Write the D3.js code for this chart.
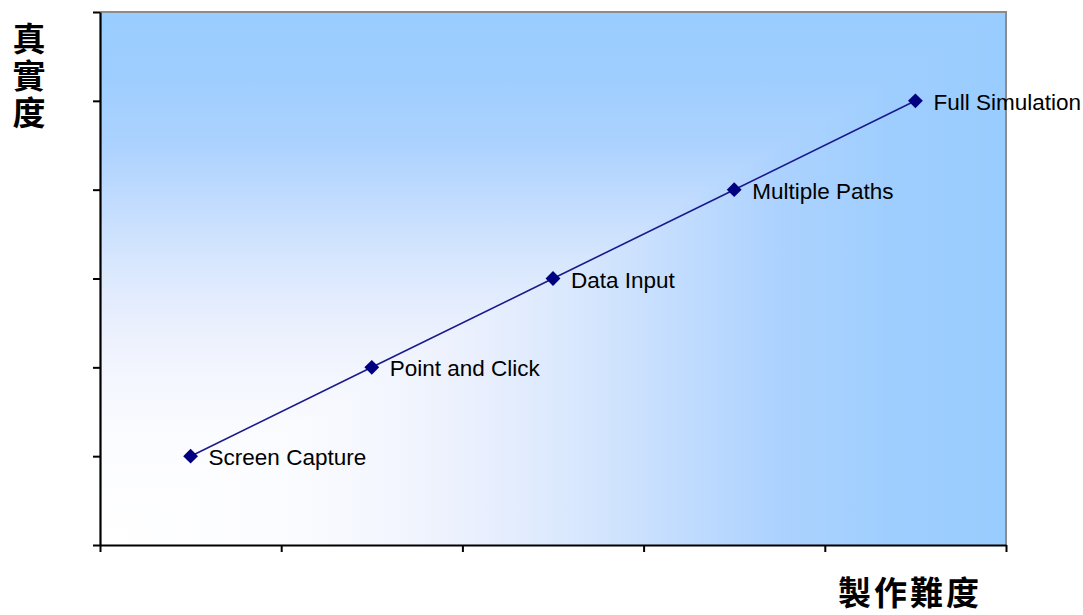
<!DOCTYPE html>
<html>
<head>
<meta charset="utf-8">
<script src="https://cdn.jsdelivr.net/npm/d3@7"></script>
<style>
  html, body { margin: 0; padding: 0; background: #ffffff; }
  svg { display: block; }
</style>
</head>
<body>
<svg id="chart" width="1083" height="615"></svg>
<script>
// Difficulty vs. realism of simulation types
const categories = ["Screen Capture", "Point and Click", "Data Input", "Multiple Paths", "Full Simulation"];
const difficulty = [0.5, 1.5, 2.5, 3.5, 4.5];
const realism = [1, 2, 3, 4, 5];
const xTicks = [0, 1, 2, 3, 4, 5];
const yTicks = [0, 1, 2, 3, 4, 5, 6];
const yTitle = "真實度";
const xTitle = "製作難度";

const svg = d3.select("#chart");
const plotL = 100, plotR = 1006, plotT = 12, plotB = 545;

const x = d3.scaleLinear().domain([0, 5]).range([plotL, plotR]);
const y = d3.scaleLinear().domain([0, 6]).range([plotB, plotT]);

// Corner gradient: white at lower-left, light blue toward top and right edges
const stops = [
  [0, "#ffffff"], [0.2, "#fbfcff"], [0.32, "#f3f6fe"], [0.42, "#e9effd"],
  [0.52, "#d9e8fd"], [0.62, "#c6defe"], [0.75, "#acd2ff"], [0.88, "#9ecefe"], [1, "#99ccff"]
];
const defs = svg.append("defs");
function grad(id, x1, y1, x2, y2) {
  const g = defs.append("linearGradient").attr("id", id)
    .attr("gradientUnits", "userSpaceOnUse")
    .attr("x1", x1).attr("y1", y1).attr("x2", x2).attr("y2", y2);
  stops.forEach(s => g.append("stop").attr("offset", s[0]).attr("stop-color", s[1]));
}
grad("gH", plotL, 0, plotR, 0);
grad("gV", 0, plotB, 0, plotT);

// vertical blend everywhere, horizontal blend over the lower-right triangle
svg.append("rect")
  .attr("x", plotL).attr("y", plotT).attr("width", plotR - plotL).attr("height", plotB - plotT)
  .attr("fill", "url(#gV)");
svg.append("polygon")
  .attr("points", `${plotL},${plotB} ${plotR},${plotB} ${plotR},${plotT}`)
  .attr("fill", "url(#gH)");

// Gray frame on top and right
svg.append("path")
  .attr("d", `M${plotL},${plotT}H${plotR}V${plotB}`)
  .attr("fill", "none").attr("stroke", "#8c8c8c").attr("stroke-width", 2);

// Axes
const xAxis = d3.axisBottom(x).tickValues(xTicks).tickSize(7).tickSizeOuter(0).tickFormat("");
const yAxis = d3.axisLeft(y).tickValues(yTicks).tickSize(7).tickSizeOuter(0).tickFormat("");
const gx = svg.append("g").attr("transform", `translate(0,${plotB})`).call(xAxis);
const gy = svg.append("g").attr("transform", `translate(${plotL},0)`).call(yAxis);
[gx, gy].forEach(g => {
  g.select(".domain").attr("stroke", "#000").attr("stroke-width", 2.2);
  g.selectAll(".tick line").attr("stroke", "#000").attr("stroke-width", 2);
});

// Series line
const pts = categories.map((c, i) => ({ name: c, dx: difficulty[i], ry: realism[i] }));
svg.append("path")
  .datum(pts)
  .attr("d", d3.line().x(d => x(d.dx)).y(d => y(d.ry)))
  .attr("fill", "none").attr("stroke", "#1a1a8c").attr("stroke-width", 1.6);

// Diamond markers
svg.selectAll(".mk").data(pts).enter().append("path")
  .attr("class", "mk")
  .attr("d", d3.symbol().type(d3.symbolDiamond2).size(140))
  .attr("transform", d => `translate(${x(d.dx)},${y(d.ry)})`)
  .attr("fill", "#000080");

// Point labels
svg.selectAll(".lbl").data(pts).enter().append("text")
  .attr("class", "lbl")
  .attr("x", d => x(d.dx) + 18)
  .attr("y", d => y(d.ry) + 9)
  .attr("font-family", "'Liberation Sans', Arial, sans-serif")
  .attr("font-size", 22.5)
  .attr("fill", "#000")
  .text(d => d.name);

// Axis titles
svg.append("text")
  .attr("x", 29)
  .attr("y", 22)
  .attr("writing-mode", "vertical-rl")
  .style("writing-mode", "vertical-rl")
  .attr("font-family", "'Noto Sans CJK TC', 'Noto Sans CJK SC', sans-serif")
  .attr("font-weight", "bold")
  .attr("font-size", 33)
  .attr("letter-spacing", 4)
  .attr("fill", "#000")
  .text(yTitle);

svg.append("text")
  .attr("x", 910)
  .attr("y", 605)
  .attr("text-anchor", "middle")
  .attr("font-family", "'Noto Sans CJK TC', 'Noto Sans CJK SC', sans-serif")
  .attr("font-weight", "bold")
  .attr("font-size", 33)
  .attr("letter-spacing", 3)
  .attr("fill", "#000")
  .text(xTitle);
</script>
</body>
</html>
